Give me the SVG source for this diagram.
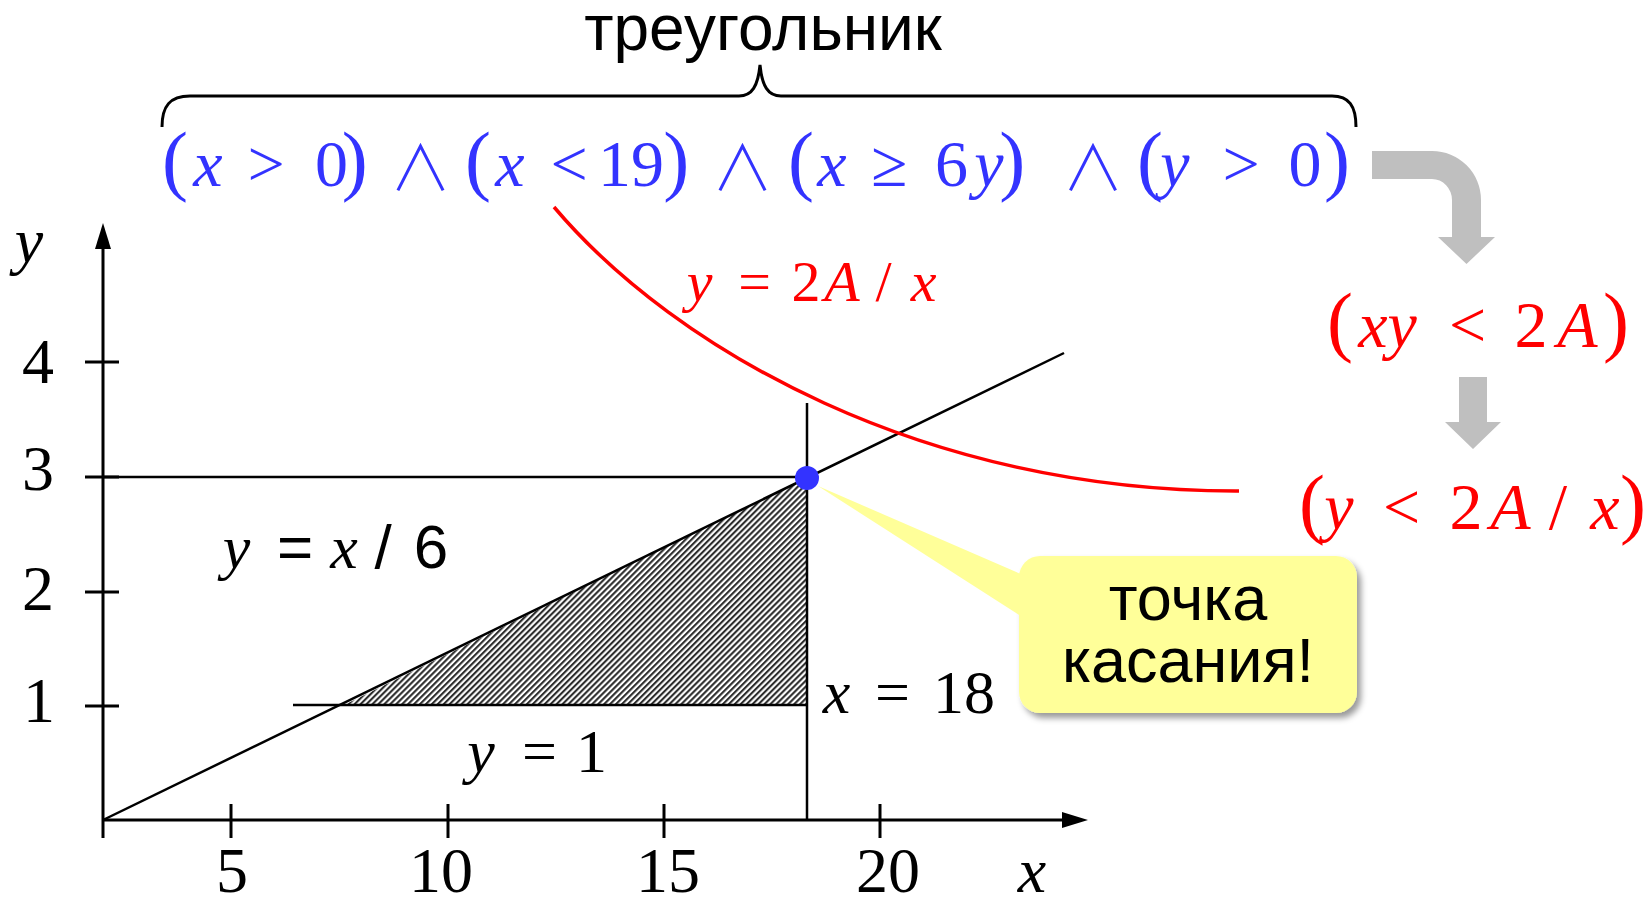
<svg xmlns="http://www.w3.org/2000/svg" width="1647" height="898" viewBox="0 0 1647 898">
<defs>
<style>
.m{font-family:"Liberation Serif","Times New Roman",serif;}
.i{font-style:italic;}
.s{font-family:"Liberation Sans",Arial,sans-serif;}
.p{font-size:78px;}
.and{font-family:"Noto Sans CJK JP","Noto Sans CJK SC",sans-serif;font-weight:300;font-size:62px;}
.ln{stroke:#000;stroke-width:2.5;fill:none;}
.ax{stroke:#000;stroke-width:3;fill:none;}
.blue{fill:#3333FF;}
.red{fill:#FF0000;}
</style>
<pattern id="hatch" width="4.2" height="4.2" patternUnits="userSpaceOnUse" patternTransform="rotate(45)">
<rect width="4.2" height="4.2" fill="#fff"/>
<line x1="1.1" y1="0" x2="1.1" y2="4.2" stroke="#222" stroke-width="2"/>
</pattern>
<filter id="shadow" x="-10%" y="-10%" width="130%" height="140%">
<feDropShadow dx="4" dy="5" stdDeviation="3" flood-color="#000" flood-opacity="0.4"/>
</filter>
</defs>
<rect width="1647" height="898" fill="#fff"/>

<g id="hatched-triangle">
<polygon points="344,705 807,478 807,705" fill="url(#hatch)"/>
</g>

<g id="connectors">
<line class="ax" x1="103" y1="245" x2="103" y2="838"/>
<polygon points="103,223 95,249 111,249" fill="#000"/>
<line class="ax" x1="103" y1="820" x2="1065" y2="820"/>
<polygon points="1088,820 1062,812 1062,828" fill="#000"/>
<line class="ax" x1="85" y1="362" x2="119" y2="362"/>
<line class="ax" x1="85" y1="477" x2="119" y2="477"/>
<line class="ax" x1="85" y1="592" x2="119" y2="592"/>
<line class="ax" x1="85" y1="706" x2="119" y2="706"/>
<line class="ax" x1="231" y1="804" x2="231" y2="838"/>
<line class="ax" x1="448" y1="804" x2="448" y2="838"/>
<line class="ax" x1="664" y1="804" x2="664" y2="838"/>
<line class="ax" x1="880" y1="804" x2="880" y2="838"/>
<line class="ln" x1="103" y1="477" x2="807" y2="477"/>
<line class="ln" x1="293" y1="705" x2="807" y2="705"/>
<line class="ln" x1="807" y1="403" x2="807" y2="821"/>
<line class="ln" x1="103" y1="820" x2="1064" y2="353"/>
<path d="M554,207 C675,350 925,492 1239,491" stroke="#FF0000" stroke-width="3.5" fill="none"/>
<path d="M162,127 C162,106 170,96 190,96 L739,96 C752,96 758,86 760,65 C762,86 768,96 781,96 L1332,96 C1349,96 1356,106 1356,127" stroke="#000" stroke-width="3" fill="none"/>
<path d="M1372,151 L1432,151 A49,49 0 0 1 1481,200 L1481,237 L1495,237 L1466.5,264 L1438,237 L1452,237 L1452,200 A20,21 0 0 0 1432,179 L1372,179 Z" fill="#BFBFBF"/>
<path d="M1459,377 L1487,377 L1487,422 L1501,422 L1473,449 L1445,422 L1459,422 Z" fill="#BFBFBF"/>
</g>

<g id="point">
<circle cx="807" cy="478" r="12" fill="#3333FF"/>
</g>

<g id="title">
<text class="s" x="763" y="50" font-size="64" text-anchor="middle">треугольник</text>
</g>

<g id="condition" class="m blue" font-size="66">
<text y="186" text-anchor="middle">
<tspan x="175" class="p">(</tspan><tspan x="208" class="i">x</tspan><tspan x="266">&gt;</tspan><tspan x="331.5">0</tspan><tspan x="363" class="p">)</tspan>
<tspan x="478" class="p">(</tspan><tspan x="510" class="i">x</tspan><tspan x="569">&lt;</tspan><tspan x="631">19</tspan><tspan x="684.5" class="p">)</tspan>
<tspan x="801" class="p">(</tspan><tspan x="832" class="i">x</tspan><tspan x="889">≥</tspan><tspan x="951.5">6</tspan><tspan x="989" class="i">y</tspan><tspan x="1020.6" class="p">)</tspan>
<tspan x="1150" class="p">(</tspan><tspan x="1175" class="i">y</tspan><tspan x="1241">&gt;</tspan><tspan x="1305">0</tspan><tspan x="1337" class="p">)</tspan>
</text>
<text y="191" text-anchor="middle" class="and">
<tspan x="420.5">∧</tspan><tspan x="742.5">∧</tspan><tspan x="1093">∧</tspan>
</text>
</g>

<g id="cond-xy" class="m red" font-size="66">
<text y="347" text-anchor="middle">
<tspan x="1340" class="p">(</tspan><tspan x="1387.5" class="i">xy</tspan><tspan x="1467.5">&lt;</tspan><tspan x="1531">2</tspan><tspan x="1577.5" class="i">A</tspan><tspan x="1616" class="p">)</tspan>
</text>
</g>

<g id="cond-y" class="m red" font-size="66">
<text y="529" text-anchor="middle">
<tspan x="1312" class="p">(</tspan><tspan x="1339" class="i">y</tspan><tspan x="1401.5">&lt;</tspan><tspan x="1466">2</tspan><tspan x="1510.5" class="i">A</tspan><tspan x="1558">/</tspan><tspan x="1605" class="i">x</tspan><tspan x="1633" class="p">)</tspan>
</text>
</g>

<g id="hyperbola-label" class="m red" font-size="58">
<text y="301" text-anchor="middle">
<tspan x="699.5" class="i">y</tspan><tspan x="754.5">=</tspan><tspan x="806">2</tspan><tspan x="842" class="i">A</tspan><tspan x="883.5">/</tspan><tspan x="923.5" class="i">x</tspan>
</text>
</g>

<g id="label-diag" font-size="62">
<text y="568" text-anchor="middle">
<tspan x="236.5" class="m i">y</tspan><tspan x="295" class="s">=</tspan><tspan x="344" class="m i">x</tspan><tspan x="383" class="s">/</tspan><tspan x="431" class="s">6</tspan>
</text>
</g>

<g id="label-y1" class="m" font-size="62">
<text y="772" text-anchor="middle">
<tspan x="481" class="i">y</tspan><tspan x="539.5">=</tspan><tspan x="591.5">1</tspan>
</text>
</g>

<g id="label-x18" class="m" font-size="62">
<text y="713" text-anchor="middle">
<tspan x="836.5" class="i">x</tspan><tspan x="892.5">=</tspan><tspan x="964">18</tspan>
</text>
</g>

<g id="axis-labels" class="m" font-size="64" text-anchor="middle">
<text x="29" y="262" class="i">y</text>
<text x="38" y="383">4</text>
<text x="38" y="490">3</text>
<text x="38" y="610">2</text>
<text x="39" y="722">1</text>
<text x="232" y="892">5</text>
<text x="441" y="892">10</text>
<text x="668" y="892">15</text>
<text x="888" y="892">20</text>
<text x="1032" y="892" class="i">x</text>
</g>

<g id="callout">
<rect x="1019" y="556" width="338" height="157" rx="21" ry="21" fill="#FFFF99" filter="url(#shadow)"/>
<polygon points="818,486 1030,578 1030,622" fill="#FFFF99"/>
<text class="s" x="1188" y="620" font-size="63" text-anchor="middle">точка</text>
<text class="s" x="1188" y="682" font-size="63" text-anchor="middle">касания!</text>
</g>
</svg>
